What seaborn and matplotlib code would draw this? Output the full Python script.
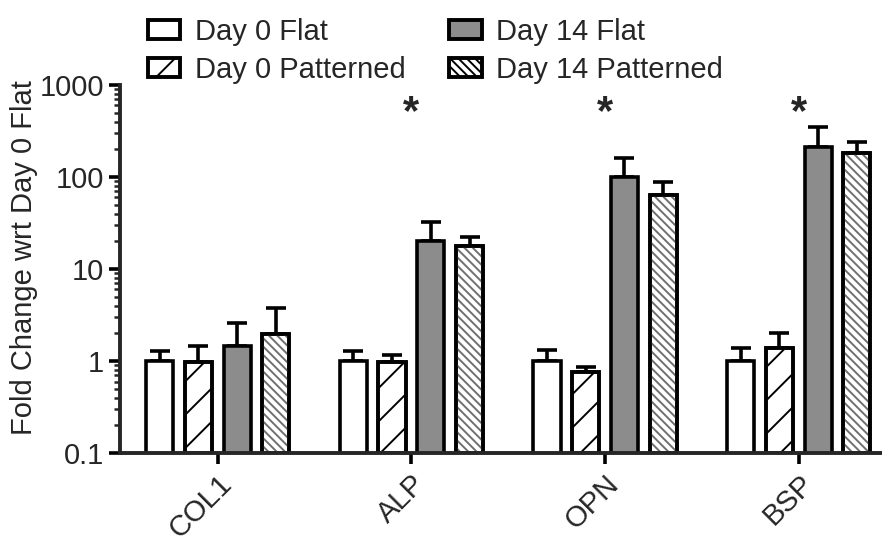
import numpy as np
import pandas as pd
import matplotlib
matplotlib.use("Agg")
import matplotlib.pyplot as plt
import matplotlib.patches as mpatches
from matplotlib.ticker import LogLocator, FixedFormatter, FixedLocator, NullFormatter
import seaborn as sns

# data
genes = ["COL1", "ALP", "OPN", "BSP"]
conditions = ["Day 0 Flat", "Day 0 Patterned", "Day 14 Flat", "Day 14 Patterned"]
day0_flat = [1.0, 1.0, 1.0, 1.0]
day0_pat = [0.98, 0.98, 0.76, 1.4]
day14_flat = [1.45, 20.0, 100.0, 212.0]
day14_pat = [1.95, 18.0, 63.0, 180.0]
# top of error bar (mean + SD)
day0_flat_err = [1.3, 1.3, 1.32, 1.4]
day0_pat_err = [1.45, 1.15, 0.86, 2.0]
day14_flat_err = [2.6, 32.0, 160.0, 350.0]
day14_pat_err = [3.8, 22.5, 88.0, 240.0]
star_genes = ["ALP", "OPN", "BSP"]

means = [day0_flat, day0_pat, day14_flat, day14_pat]
tops = [day0_flat_err, day0_pat_err, day14_flat_err, day14_pat_err]
rows = []
for c, m, t in zip(conditions, means, tops):
    for g, v, e in zip(genes, m, t):
        rows.append({"gene": g, "condition": c, "value": v, "top": e})
df = pd.DataFrame(rows)

sns.set_style("ticks")
plt.rcParams["font.family"] = ["Liberation Sans", "DejaVu Sans"]
plt.rcParams["hatch.linewidth"] = 1.4

fills = {"Day 0 Flat": "white", "Day 0 Patterned": "white",
         "Day 14 Flat": "#8c8c8c", "Day 14 Patterned": "white"}
hatches = {"Day 0 Flat": None, "Day 0 Patterned": "/",
           "Day 14 Flat": None, "Day 14 Patterned": "\\\\\\\\"}
hatch_cols = {"Day 0 Patterned": "black", "Day 14 Patterned": "#707070"}

fig = plt.figure(figsize=(8.82, 5.44), dpi=100)
ax = fig.add_axes([0.136, 0.167, 0.864, 0.677])

sns.barplot(data=df, x="gene", y="value", hue="condition", order=genes,
            hue_order=conditions, palette=fills, errorbar=None, gap=0.3,
            width=0.8, edgecolor="black", linewidth=2.6, legend=False, ax=ax)
ax.set_yscale("log")

for cont, cond in zip(ax.containers, conditions):
    sub = df[df.condition == cond].set_index("gene").loc[genes]
    xs = [p.get_x() + p.get_width() / 2 for p in cont.patches]
    ax.errorbar(xs, sub["value"], yerr=[np.zeros(len(xs)), sub["top"] - sub["value"]],
                fmt="none", ecolor="black", elinewidth=2.6, capsize=7,
                capthick=2.6, zorder=0.5)
    for p in cont.patches:
        p.set_zorder(1)
        if hatches[cond]:
            r = mpatches.Rectangle((p.get_x(), 0.1), p.get_width(), p.get_height() - 0.1,
                                   facecolor="none", edgecolor=hatch_cols[cond],
                                   hatch=hatches[cond], linewidth=0, zorder=1.5)
            ax.add_patch(r)
            o = mpatches.Rectangle((p.get_x(), 0.1), p.get_width(), p.get_height() - 0.1,
                                   facecolor="none", edgecolor="black",
                                   linewidth=2.6, zorder=2)
            ax.add_patch(o)

for g in star_genes:
    ax.text(genes.index(g), 500, "*", ha="center", va="center",
            fontsize=30, fontweight="bold")

ax.set_ylim(0.1, 1000)
ax.set_xlim(-0.505, 3.43)
ax.yaxis.set_major_locator(FixedLocator([0.1, 1, 10, 100, 1000]))
ax.yaxis.set_major_formatter(FixedFormatter(["0.1", "1", "10", "100", "1000"]))
ax.yaxis.set_minor_locator(LogLocator(base=10, subs=np.arange(2, 10)))
ax.yaxis.set_minor_formatter(NullFormatter())
ax.set_xticks(range(len(genes)))
ax.set_xticklabels(genes, rotation=45, ha="right", rotation_mode="anchor")
ax.set_xlabel("")
ax.set_ylabel("Fold Change wrt Day 0 Flat", fontsize=21)
ax.yaxis.set_label_coords(-0.108, 0.53)
ax.tick_params(axis="both", labelsize=21, width=2.6, length=8, color="black")
ax.tick_params(axis="y", which="minor", width=1.8, length=4)
ax.tick_params(axis="x", pad=4)
for s in ["top", "right"]:
    ax.spines[s].set_visible(False)
for s in ["left", "bottom"]:
    ax.spines[s].set_linewidth(2.8)

handles = []
for c in conditions:
    h = mpatches.Patch(facecolor=fills[c], edgecolor="black", linewidth=2.8,
                       hatch=hatches[c], label=c)
    handles.append(h)
fig.legend(handles=handles, ncol=2, loc="upper left", bbox_to_anchor=(0.145, 1.005),
           frameon=False, fontsize=21, handlelength=1.1, handleheight=0.6,
           handletextpad=0.5, columnspacing=1.5, labelspacing=0.35, borderpad=0.2)

fig.savefig("out.png", dpi=100)
